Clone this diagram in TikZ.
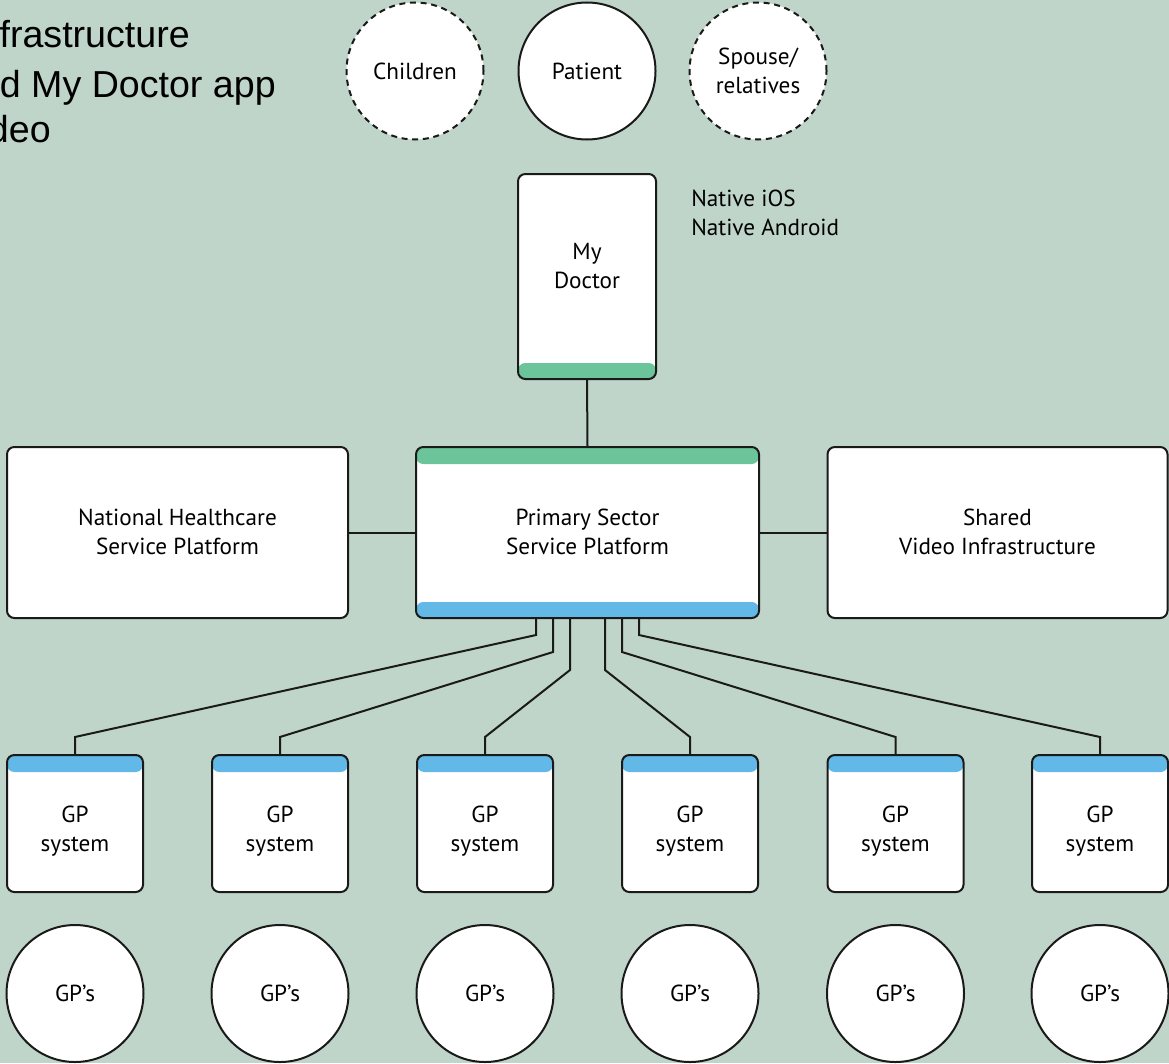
\documentclass[tikz,border=0pt]{standalone}
\usepackage{fontspec}
\setmainfont{PT Sans}
\newfontfamily\titlefont{Liberation Sans}
\usetikzlibrary{calc}
\definecolor{bgsage}{RGB}{192,213,202}
\definecolor{bargreen}{RGB}{108,197,154}
\definecolor{barblue}{RGB}{98,184,230}
\definecolor{inkline}{RGB}{26,26,26}
\tikzset{
  panel/.style={draw=inkline, fill=white, line width=1.5pt, rounded corners=5.5pt,
    inner sep=0pt, outer sep=0pt, minimum width=#1},
  panel/.default=100,
  lbl/.style={font=\fontsize{17.4}{21.3}\selectfont, align=center, inner sep=0pt, text=black},
  person/.style={draw=inkline, fill=white, line width=1.5pt, circle, inner sep=0pt,
    minimum size=102.75pt},
  optperson/.style={person, dash pattern=on 4.5pt off 3.5pt},
  wire/.style={draw=inkline, line width=1.5pt, line join=miter},
  topbar/.style={path picture={\fill[#1] (path picture bounding box.north west)
      rectangle ([yshift=-12.75pt]path picture bounding box.north east);}},
  botbar/.style={path picture={\fill[#1] (path picture bounding box.south west)
      rectangle ([yshift=12pt]path picture bounding box.south east);}},
  bothbars/.style={path picture={
      \fill[bargreen] (path picture bounding box.north west)
        rectangle ([yshift=-12.75pt]path picture bounding box.north east);
      \fill[barblue] (path picture bounding box.south west)
        rectangle ([yshift=12pt]path picture bounding box.south east);}},
}
\begin{document}
\begin{tikzpicture}[x=0.75pt, y=-0.75pt]
  % canvas
  \fill[bgsage] (0,0) rectangle (1169,1063);
  \useasboundingbox (0,0) rectangle (1169,1063);

  % heading, running off the left edge of the sheet
  \begin{scope}[every node/.style={font=\titlefont\fontsize{28.2}{30}\selectfont, inner sep=0pt, anchor=base east}]
    \node (h1) at (190,48) {frastructure};
    \node (h2) at (276,97) {d My Doctor app};
    \node (h3) at (51,142) {deo};
  \end{scope}

  % users
  \node[optperson] (children) at (415,71) {};
  \node[person]    (patient)  at (587,71) {};
  \node[optperson] (spouse)   at (758,71) {};
  \node[lbl] (tchildren) at (415,71) {Children};
  \node[lbl] (tpatient)  at (587,71) {Patient};
  \node[lbl] (tspouse)   at (758,71) {Spouse/\\relatives};

  % app
  \node[panel=103.5pt, minimum height=153.75pt, botbar=bargreen] (app) at (587,276.5) {};
  \node[lbl] (tapp) at (587,266) {My\\Doctor};
  \node[lbl, anchor=north west, align=left] (tnative) at (691,190) {Native iOS\\Native Android};

  % platforms
  \node[panel=257.25pt, minimum height=128.25pt, bothbars] (pssp) at (587.5,532.5) {};
  \node[lbl] (tpssp) at (587.5,532) {Primary Sector\\Service Platform};
  \node[panel=255.75pt, minimum height=128.25pt] (nhsp) at (177.5,532.5) {};
  \node[lbl] (tnhsp) at (177.5,532) {National Healthcare\\Service Platform};
  \node[panel=255pt, minimum height=128.25pt] (svi) at (997.5,532.5) {};
  \node[lbl] (tsvi) at (997.5,532) {Shared\\Video Infrastructure};

  \draw[wire] (app.south) -- (pssp.north);
  \draw[wire] (nhsp.east) -- (pssp.west);
  \draw[wire] (pssp.east) -- (svi.west);

  % practices
  \foreach \i/\cx in {1/75,2/280,3/485,4/690,5/895.5,6/1100}{
    \node[panel=102pt, minimum height=102.75pt, topbar=barblue] (gp\i) at (\cx,823.5) {};
    \node[lbl] (tgp\i) at (\cx,831) {GP\\system};
    \node[person] (doc\i) at (\cx,993.5) {};
    \node[lbl] (tdoc\i) at (\cx,993) {GP’s};
  }

  % platform to practice links
  \foreach \i/\dx/\dy in {1/-51.5/17,2/-34.5/34,3/-17.5/52,4/17.5/52,5/34.5/34,6/51.5/17}{
    \draw[wire] ($(pssp.south)+(\dx,0)$) -- ++(0,\dy) -- ($(gp\i.north)+(0,-18)$) -- (gp\i.north);
  }
\end{tikzpicture}
\end{document}
